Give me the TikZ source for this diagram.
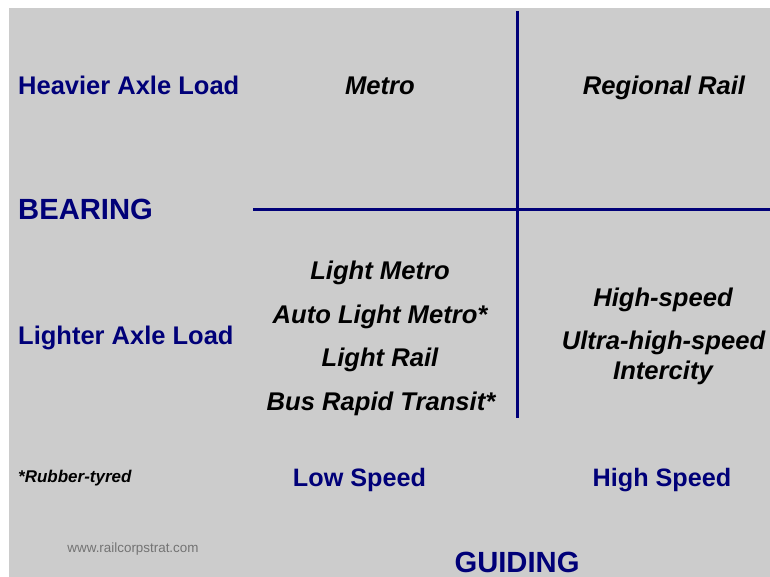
\documentclass[tikz,border=0pt]{standalone}
\usepackage{fontspec}
\setmainfont{Liberation Sans}
\definecolor{navy}{RGB}{0,0,120}
\definecolor{bg}{RGB}{204,204,204}
\definecolor{webgray}{RGB}{115,115,115}
\begin{document}
\begin{tikzpicture}[x=1pt,y=-1pt,
  axislabel/.style={font=\fontsize{25.5}{30}\selectfont\bfseries, text=navy, inner sep=0pt},
  speedlabel/.style={font=\fontsize{25.2}{30}\selectfont\bfseries, text=navy, inner sep=0pt},
  biglabel/.style={font=\fontsize{29.2}{34}\selectfont\bfseries, text=navy, inner sep=0pt},
  cell/.style={font=\fontsize{25.6}{30}\selectfont\bfseries\itshape, text=black, inner sep=0pt},
  rule/.style={draw=navy, line width=3pt}]
\useasboundingbox (0,0) rectangle (770,577);
\fill[bg] (9,8) rectangle (770,577);
% axes
\coordinate (hL) at (253,209.5);
\coordinate (hR) at (770,209.5);
\coordinate (vT) at (517,11);
\coordinate (vB) at (517,418);
\draw[rule] (hL) -- (hR);
\draw[rule] (vT) -- (vB);
% left labels
\node[axislabel, anchor=base west] (heavy) at (18,95) {Heavier Axle Load};
\node[biglabel, anchor=base west] (bearing) at (18,219) {BEARING};
\node[axislabel, anchor=base west] (lighter) at (18,344) {Lighter Axle Load};
\node[font=\fontsize{17}{20}\selectfont\bfseries\itshape, inner sep=0pt, anchor=base west] (rubber) at (18,482) {*Rubber-tyred};
\node[font=\fontsize{13.4}{16}\selectfont, text=webgray, inner sep=0pt, anchor=base] (web) at (133,552) {www.railcorpstrat.com};
% cells
\node[cell, anchor=base] (metro) at (380,95) {Metro};
\node[cell, anchor=base] (regional) at (664,95) {Regional Rail};
\node[cell, anchor=base] (lmetro) at (380,279) {Light Metro};
\node[cell, anchor=base] (almetro) at (380,323) {Auto Light Metro*};
\node[cell, anchor=base] (lrail) at (380,366) {Light Rail};
\node[cell, anchor=base] (brt) at (381,410) {Bus Rapid Transit*};
\node[cell, anchor=base] (hs) at (663,306) {High-speed};
\node[cell, anchor=base] (uhs) at (663.5,349) {Ultra-high-speed};
\node[cell, anchor=base] (ic) at (663,379) {Intercity};
% bottom labels
\node[speedlabel, anchor=base] (low) at (359.5,486) {Low Speed};
\node[speedlabel, anchor=base] (high) at (662,486) {High Speed};
\node[biglabel, anchor=base] (guiding) at (517,572) {GUIDING};
\end{tikzpicture}
\end{document}
